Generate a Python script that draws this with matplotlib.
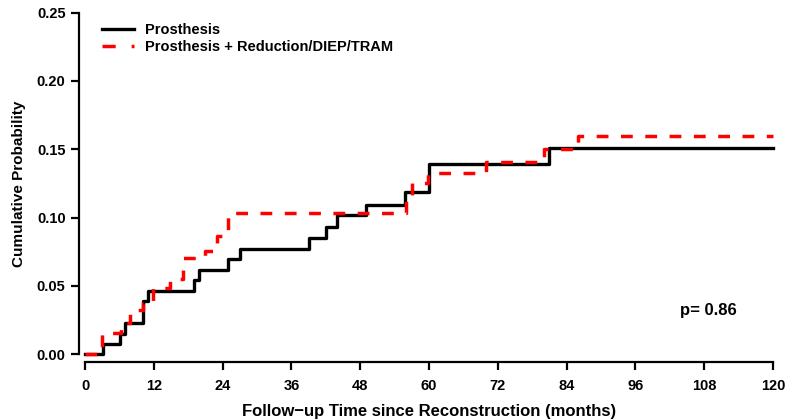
import matplotlib
matplotlib.use("Agg")
import matplotlib.pyplot as plt

plt.rcParams['font.family'] = ['Liberation Sans', 'DejaVu Sans']
plt.rcParams['font.weight'] = 'bold'

# step data (month, cumulative probability)
pros_t = [0, 3.2, 6.1, 7.0, 10.1, 10.9, 19.0, 19.9, 24.9, 27.1, 39.0, 42.0, 44.0, 49.0, 55.8, 60.0, 81.0, 120]
pros_p = [0, 0.0077, 0.0150, 0.0228, 0.0385, 0.0463, 0.0541, 0.0618, 0.0695, 0.0772,
          0.0852, 0.0930, 0.1015, 0.1095, 0.1189, 0.1390, 0.1509, 0.1509]

combo_t = [0, 3.0, 6.3, 7.9, 10.2, 11.9, 14.8, 17.1, 20.9, 23.0, 25.0, 56.0, 57.0, 59.9, 70.0, 80.0, 85.9, 120]
combo_p = [0, 0.0156, 0.0225, 0.0320, 0.0376, 0.0486, 0.0547, 0.0705, 0.0757, 0.0864,
           0.1035, 0.1130, 0.1256, 0.1324, 0.1409, 0.1500, 0.1597, 0.1597]

labels = ['Prosthesis', 'Prosthesis + Reduction/DIEP/TRAM']
p_text = 'p= 0.86'

xticks = list(range(0, 121, 12))
yticks = [0.0, 0.05, 0.10, 0.15, 0.20, 0.25]

fig = plt.figure(figsize=(8.05, 4.2), dpi=100)
ax = fig.add_axes([0.1056, 0.1571, 0.8547, 0.8126])

ax.step(pros_t, pros_p, where='post', color='black', lw=2.4, label=labels[0], clip_on=False)
ax.step(combo_t, combo_p, where='post', color='#ff0000', lw=2.5, dashes=(3.4, 3.6),
        label=labels[1], clip_on=False)

ax.set_xlim(0, 120)
ax.set_ylim(0, 0.25)
ax.set_xticks(xticks)
ax.set_yticks(yticks)
ax.set_yticklabels(['%.2f' % v for v in yticks])

for s in ['top', 'right']:
    ax.spines[s].set_visible(False)
ax.spines['left'].set_position(('outward', 4))
ax.spines['bottom'].set_position(('outward', 6))
ax.spines['left'].set_bounds(0, 0.25)
ax.spines['bottom'].set_bounds(0, 120)
for s in ['left', 'bottom']:
    ax.spines[s].set_linewidth(1.6)
ax.tick_params(width=1.6, length=6, labelsize=10.5)
ax.tick_params(axis='x', pad=6)
ax.tick_params(axis='y', pad=4)

ax.set_xlabel('Follow\u2212up Time since Reconstruction (months)', fontsize=12, fontweight='bold', labelpad=8)
ax.set_ylabel('Cumulative Probability', fontsize=11, fontweight='bold', labelpad=8)

ax.text(103.7, 0.0322, p_text, fontsize=12, fontweight='bold', va='center', ha='left')

lg = ax.legend(loc='upper left', bbox_to_anchor=(0.024, 0.969), borderaxespad=0, borderpad=0,
               frameon=False, fontsize=10.5, handlelength=2.2, handletextpad=0.8, labelspacing=0.2)
lg.get_lines()[1].set_dashes((3.8, 4.6))

fig.savefig('out.png', dpi=100)
